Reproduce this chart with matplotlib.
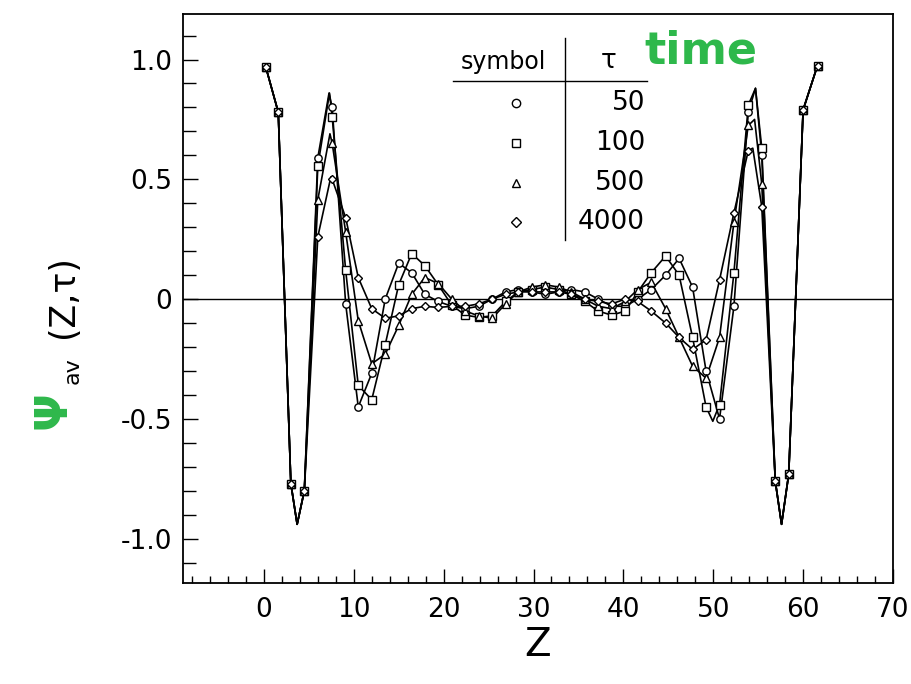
import matplotlib.pyplot as plt
from matplotlib.ticker import MultipleLocator

plt.rcParams['font.family'] = ['DejaVu Sans']
plt.rcParams['axes.unicode_minus'] = False

# Z positions of the plotted points (shared by all four runs)
z = [0.2, 1.6, 3.0, 4.5, 6.0, 7.6, 9.1, 10.5, 12.0, 13.5, 15.0, 16.45, 17.9, 19.4,
     20.9, 22.4, 23.9, 25.4, 26.9, 28.3, 29.8, 31.3, 32.8, 34.2, 35.7, 37.2, 38.7,
     40.2, 41.6, 43.1, 44.7, 46.2, 47.7, 49.2, 50.7, 52.3, 53.9, 55.4, 56.9, 58.4,
     60.0, 61.6]

# psi_av at the marked points
psi_50 = [0.97, 0.78, -0.77, -0.80, 0.59, 0.80, -0.02, -0.45, -0.31, 0.00, 0.15, 0.11,
          0.02, -0.01, -0.03, -0.04, -0.03, 0.00, 0.03, 0.04, 0.03, 0.02, 0.03, 0.04,
          0.03, 0.00, -0.03, -0.03, 0.00, 0.04, 0.10, 0.17, 0.05, -0.30, -0.50, -0.03,
          0.78, 0.60, -0.76, -0.73, 0.79, 0.975]
psi_100 = [0.97, 0.78, -0.77, -0.80, 0.555, 0.76, 0.12, -0.36, -0.42, -0.19, 0.06, 0.19,
           0.14, 0.06, -0.025, -0.067, -0.076, -0.07, -0.01, 0.03, 0.04, 0.05, 0.04, 0.02,
           -0.01, -0.05, -0.067, -0.05, 0.03, 0.11, 0.18, 0.10, -0.16, -0.45, -0.44, 0.11,
           0.81, 0.63, -0.76, -0.73, 0.79, 0.975]
psi_500 = [0.97, 0.78, -0.77, -0.80, 0.415, 0.65, 0.28, -0.09, -0.27, -0.23, -0.11, 0.02,
           0.09, 0.065, 0.00, -0.05, -0.07, -0.08, -0.02, 0.03, 0.05, 0.06, 0.05, 0.03,
           0.00, -0.03, -0.04, -0.01, 0.04, 0.07, -0.04, -0.16, -0.28, -0.33, -0.16, 0.32,
           0.725, 0.48, -0.76, -0.73, 0.79, 0.975]
psi_4000 = [0.97, 0.78, -0.77, -0.80, 0.26, 0.50, 0.34, 0.09, -0.04, -0.08, -0.07, -0.04,
            -0.03, -0.035, -0.03, -0.03, -0.02, 0.00, 0.02, 0.03, 0.03, 0.03, 0.03, 0.02,
            0.00, -0.01, -0.02, 0.00, -0.01, -0.05, -0.10, -0.16, -0.21, -0.17, 0.08, 0.36,
            0.62, 0.385, -0.76, -0.73, 0.79, 0.975]

# unmarked turning points of the drawn curves
z_turn_50, psi_turn_50 = [3.7, 7.25, 54.7, 57.6], [-0.94, 0.86, 0.88, -0.94]
z_turn_100, psi_turn_100 = [3.7, 7.3, 49.95, 54.7, 57.6], [-0.94, 0.86, -0.51, 0.88, -0.94]
z_turn_500, psi_turn_500 = [3.7, 7.35, 54.6, 57.6], [-0.94, 0.69, 0.75, -0.94]
z_turn_4000, psi_turn_4000 = [3.7, 7.45, 54.4, 57.6], [-0.94, 0.51, 0.63, -0.94]

taus = ['50', '100', '500', '4000']
symbols = ['o', 's', '^', 'D']


def curve(zs, ps, zt, pt):
    pts = sorted(zip(list(zs) + list(zt), list(ps) + list(pt)))
    return [p[0] for p in pts], [p[1] for p in pts]


fig = plt.figure(figsize=(9.12, 6.84), dpi=100)
ax = fig.add_axes([183 / 912, 101 / 684, 710 / 912, 569 / 684])

series = [(psi_50, z_turn_50, psi_turn_50),
          (psi_100, z_turn_100, psi_turn_100),
          (psi_500, z_turn_500, psi_turn_500),
          (psi_4000, z_turn_4000, psi_turn_4000)]

for (ps, zt, pt), m in zip(series, symbols):
    lz, lp = curve(z, ps, zt, pt)
    ax.plot(lz, lp, color='black', lw=1.2, zorder=2)
    ms = 4.5 if m == 'D' else 5.3
    ax.plot(z, ps, ls='none', marker=m, ms=ms, mfc='white', mec='black', mew=1.0, zorder=3)

ax.axhline(0, color='black', lw=1.0, zorder=1)

ax.set_xlim(-9, 70)
ax.set_ylim(-1.185, 1.19)
ax.xaxis.set_major_locator(MultipleLocator(10))
ax.xaxis.set_minor_locator(MultipleLocator(2))
ax.set_yticks([-1.0, -0.5, 0, 0.5, 1.0])
ax.set_yticklabels(['-1.0', '-0.5', '0', '0.5', '1.0'])
ax.yaxis.set_minor_locator(MultipleLocator(0.1))
ax.tick_params(axis='both', which='both', direction='in', width=1.0, labelsize=19)
ax.tick_params(axis='x', which='major', length=10, pad=10)
ax.tick_params(axis='x', which='minor', length=5)
ax.tick_params(axis='y', which='major', length=11, pad=8)
ax.tick_params(axis='y', which='minor', length=9)
for s in ax.spines.values():
    s.set_linewidth(1.3)

ax.set_xlabel('Z', fontsize=28, labelpad=2)

# y label: handwritten green psi plus printed subscript and arguments
fig.text(0.058, 0.40, 'Ψ', color='#2eb84b', fontsize=32, fontweight='bold',
         rotation=90, ha='center', va='center')
fig.text(0.080, 0.458, 'av', fontsize=16, rotation=90, ha='center', va='center')
fig.text(0.069, 0.566, '(Z,τ)', fontsize=25, rotation=90, ha='center', va='center')

# symbol table
ax.plot([21.0, 42.6], [0.912, 0.912], color='black', lw=1.0)
ax.plot([33.5, 33.5], [1.09, 0.245], color='black', lw=1.0)
ax.text(26.6, 0.94, 'symbol', fontsize=17, ha='center', va='bottom')
ax.text(38.4, 0.94, 'τ', fontsize=19, ha='center', va='bottom')
rows_y = [0.817, 0.65, 0.483, 0.32]
for ry, m, t in zip(rows_y, symbols, taus):
    ax.plot([28.0], [ry], ls='none', marker=m, ms=6 if m != 'D' else 5,
            mfc='white', mec='black', mew=1.0)
    ax.text(42.4, ry, t, fontsize=19, ha='right', va='center')

fig.text(0.768, 0.925, 'time', color='#2eb84b', fontsize=32, fontweight='bold',
         ha='center', va='center')

fig.savefig('out.png', dpi=100)
